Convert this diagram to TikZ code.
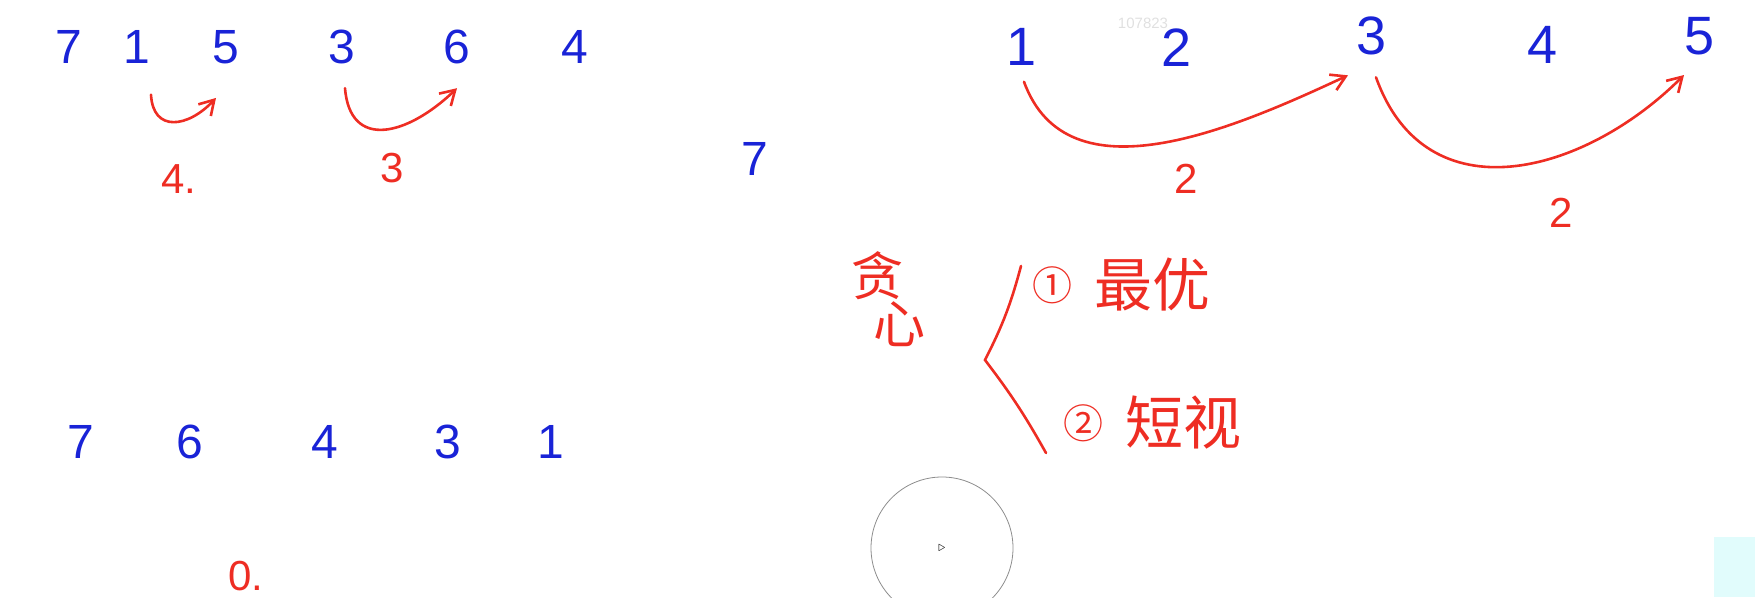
\documentclass[tikz,border=0pt]{standalone}
\usepackage{fontspec}
\setmainfont{Liberation Sans}
\newfontfamily\cjk{Noto Sans CJK SC}
\usetikzlibrary{arrows.meta,positioning}
\definecolor{inkblue}{RGB}{25,35,215}
\definecolor{inkred}{RGB}{238,45,35}
\definecolor{pencyan}{RGB}{225,252,252}

\begin{document}
\begin{tikzpicture}[x=1pt,y=1pt, every node/.style={align=center,inner sep=0pt},
  num/.style={text=inkblue,font=\fontsize{48}{48}\selectfont},
  bignum/.style={text=inkblue,font=\fontsize{54}{54}\selectfont},
  cost/.style={text=inkred,font=\fontsize{42}{42}\selectfont},
  note/.style={text=inkred,font=\cjk\fontsize{58}{58}\selectfont},
  jump/.style={->,draw=inkred,line width=2.6pt,line cap=round},
  >={Straight Barb[length=5mm,width=6mm]}]
\useasboundingbox (0,0) rectangle (1755,597);
\fill[pencyan] (1714,0) rectangle (1755,60);
\node[text=black!12,font=\fontsize{15}{15}\selectfont] (stamp) at (1143,574) {107823};

% first row
\node[num] (a7) at (69,550) {7};
\node[num] (a1) at (137,550) {1};
\node[num] (a5) at (226,550) {5};
\node[num] (a3) at (342,550) {3};
\node[num] (a6) at (457,550) {6};
\node[num] (a4) at (575,550) {4};
\draw[jump] ([xshift=14pt,yshift=-31pt]a1.south) .. controls +(2,-38) and +(-28,-30) .. ([xshift=-10pt,yshift=-34pt]a5.south);
\draw[jump] ([xshift=3pt,yshift=-24pt]a3.south) .. controls +(5,-62) and +(-50,-48) .. ([xshift=0pt,yshift=-24pt]a6.south);
\node[cost] (c4) at (179,418) {4.};
\node[cost] (c3) at (392,429) {3};

% sorted row
\node[num] (b7) at (81,155) {7};
\node[num] (b6) at (190,155) {6};
\node[num] (b4) at (325,155) {4};
\node[num] (b3) at (448,155) {3};
\node[num] (b1) at (551,155) {1};
\node[cost] (zero) at (246,21) {0.};

\node[num] (mid7) at (755,438) {7};

% right row
\node[bignum] (r1) at (1022,550) {1};
\node[bignum] (r2) at (1176,549) {2};
\node[bignum] (r3) at (1371,561) {3};
\node[bignum] (r4) at (1542,552) {4};
\node[bignum] (r5) at (1699,561) {5};
\draw[jump] ([xshift=2pt,yshift=-16pt]r1.south) to[out=-70,in=205] ([xshift=-23pt,yshift=-20pt]r3.south);
\draw[jump] ([xshift=5pt,yshift=-22pt]r3.south) .. controls +(50,-140) and +(-100,-100) .. ([xshift=-15pt,yshift=-20pt]r5.south);
\node[cost] (d1) at (1186,418) {2};
\node[cost] (d2) at (1561,384) {2};

% greedy notes
\node[note,font=\cjk\fontsize{52}{52}\selectfont] (greedy) at (877,298) {贪\\[-4pt]\hspace*{44pt}心};
\coordinate (bt) at (1021,331);
\coordinate (bm) at (985,237);
\coordinate (bb) at (1046,144);
\draw[inkred,line width=2.6pt,line cap=round] (bt) to[bend left=6] (bm) to[bend left=4] (bb);
\node[note,font=\cjk\fontsize{40}{40}\selectfont] (n1) at (1052,312) {①};
\node[note,right=22pt of n1] (best) {最优};
\node[note,font=\cjk\fontsize{40}{40}\selectfont] (n2) at (1083,174) {②};
\node[note,right=22pt of n2] (short) {短视};

% pointer
\node[draw=black!45,line width=0.8pt,circle,minimum size=142pt] (ring) at (942,49) {};
\node[font=\fontsize{14}{14}\selectfont] (cursor) at (ring.center) {$\triangleright$};
\end{tikzpicture}
\end{document}
